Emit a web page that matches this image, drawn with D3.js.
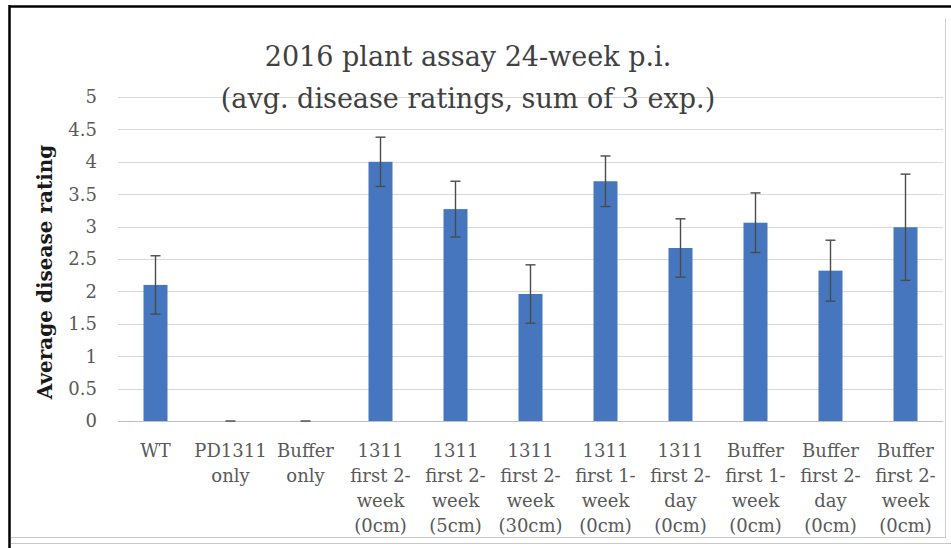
<!DOCTYPE html>
<html>
<head>
<meta charset="utf-8">
<script src="https://cdn.jsdelivr.net/npm/d3@7"></script>
<style>
  body { margin: 0; background: #fff; }
  svg { display: block; }
</style>
</head>
<body>
<div id="chart"></div>
<script>
// data
let categories = [
    ["WT"],
    ["PD1311", "only"],
    ["Buffer", "only"],
    ["1311", "first 2-", "week", "(0cm)"],
    ["1311", "first 2-", "week", "(5cm)"],
    ["1311", "first 2-", "week", "(30cm)"],
    ["1311", "first 1-", "week", "(0cm)"],
    ["1311", "first 2-", "day", "(0cm)"],
    ["Buffer", "first 1-", "week", "(0cm)"],
    ["Buffer", "first 2-", "day", "(0cm)"],
    ["Buffer", "first 2-", "week", "(0cm)"]
];
let values = [2.1, 0, 0, 4.0, 3.27, 1.96, 3.7, 2.67, 3.06, 2.32, 2.99];
let errors = [0.45, 0, 0, 0.38, 0.43, 0.45, 0.39, 0.45, 0.46, 0.47, 0.82];
let yTicks = [0, 0.5, 1, 1.5, 2, 2.5, 3, 3.5, 4, 4.5, 5];
let titleLines = ["2016 plant assay 24-week p.i.", "(avg. disease ratings, sum of 3 exp.)"];
let yLabel = "Average disease rating";

let width = 951, height = 548;
let font = "'DejaVu Serif', 'Liberation Serif', serif";

let svg = d3.select("#chart").append("svg")
    .attr("width", width)
    .attr("height", height);

// frame of the screenshot
svg.append("line").attr("x1", 9).attr("x2", width).attr("y1", 6.5).attr("y2", 6.5)
    .attr("stroke", "#000").attr("stroke-width", 2.5);
svg.append("line").attr("x1", 9.5).attr("x2", 9.5).attr("y1", 5).attr("y2", height)
    .attr("stroke", "#000").attr("stroke-width", 2.5);
svg.append("line").attr("x1", 945.5).attr("x2", 945.5).attr("y1", 18).attr("y2", 538)
    .attr("stroke", "#d0d0d0").attr("stroke-width", 1);
svg.append("line").attr("x1", 11).attr("x2", 946).attr("y1", 537.5).attr("y2", 537.5)
    .attr("stroke", "#c8c8c8").attr("stroke-width", 1);
svg.append("line").attr("x1", 11).attr("x2", width).attr("y1", 543.5).attr("y2", 543.5)
    .attr("stroke", "#c8c8c8").attr("stroke-width", 1);

let x = d3.scaleBand()
    .domain(d3.range(categories.length))
    .range([118, 943])
    .paddingInner(0.68)
    .paddingOuter(0.34);

let y = d3.scaleLinear().domain([0, 5]).range([421, 97]);

// gridlines
svg.append("g").selectAll("line").data(yTicks).enter().append("line")
    .attr("x1", 118).attr("x2", 943)
    .attr("y1", d => Math.round(y(d)) + 0.5)
    .attr("y2", d => Math.round(y(d)) + 0.5)
    .attr("stroke", d => d === 0 ? "#bfbfbf" : "#d9d9d9")
    .attr("stroke-width", 1.2);

// y tick labels
svg.append("g").selectAll("text").data(yTicks).enter().append("text")
    .attr("x", 97)
    .attr("y", d => y(d))
    .attr("dy", "0.35em")
    .attr("text-anchor", "end")
    .attr("font-family", font)
    .attr("font-size", 18)
    .attr("fill", "#595959")
    .text(d => d);

// bars
svg.append("g").selectAll("rect").data(values).enter().append("rect")
    .attr("x", (d, i) => x(i))
    .attr("width", x.bandwidth())
    .attr("y", d => y(d))
    .attr("height", d => y(0) - y(d))
    .attr("fill", "#4677be");

// error bars
let eg = svg.append("g").attr("stroke", "#4a4a4a").attr("stroke-width", 1.4);
values.forEach((v, i) => {
    let cx = x(i) + x.bandwidth() / 2;
    let lo = y(v - errors[i]), hi = y(v + errors[i]);
    if (errors[i] > 0) {
        eg.append("line").attr("x1", cx).attr("x2", cx).attr("y1", lo).attr("y2", hi);
        eg.append("line").attr("x1", cx - 5).attr("x2", cx + 5).attr("y1", lo).attr("y2", lo);
    }
    eg.append("line").attr("x1", cx - 5).attr("x2", cx + 5).attr("y1", hi).attr("y2", hi);
});

// category labels
let cg = svg.append("g");
categories.forEach((lines, i) => {
    let t = cg.append("text")
        .attr("x", x(i) + x.bandwidth() / 2)
        .attr("y", 457)
        .attr("text-anchor", "middle")
        .attr("font-family", font)
        .attr("font-size", 18)
        .attr("fill", "#595959");
    lines.forEach((s, j) => {
        t.append("tspan")
            .attr("x", x(i) + x.bandwidth() / 2)
            .attr("y", 457 + j * 25)
            .text(s);
    });
});

// title
svg.append("g").selectAll("text").data(titleLines).enter().append("text")
    .attr("x", 468)
    .attr("y", (d, i) => 66 + i * 42)
    .attr("text-anchor", "middle")
    .attr("font-family", font)
    .attr("font-size", 27)
    .attr("fill", "#404040")
    .text(d => d);

// y axis label
svg.append("text")
    .attr("transform", "translate(52,272) rotate(-90)")
    .attr("text-anchor", "middle")
    .attr("font-family", font)
    .attr("font-size", 20)
    .attr("font-weight", "bold")
    .attr("fill", "#1a1a1a")
    .text(yLabel);
</script>
</body>
</html>
